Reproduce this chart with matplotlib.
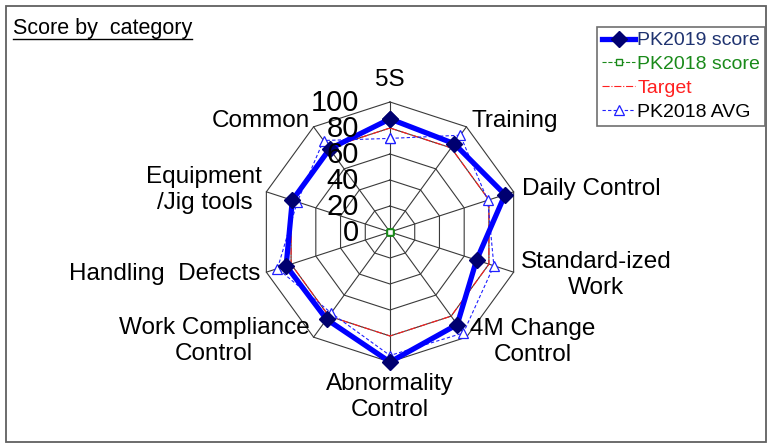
import numpy as np
import matplotlib
matplotlib.use("Agg")
import matplotlib.pyplot as plt
from matplotlib.lines import Line2D
from matplotlib.patches import Rectangle

plt.rcParams['font.family'] = ['Liberation Sans', 'DejaVu Sans']

categories = ["5S", "Training", "Daily Control", "Standard-ized\nWork",
              "4M Change\nControl", "Abnormality\nControl",
              "Work Compliance\nControl", "Handling  Defects",
              "Equipment\n/Jig tools", "Common"]
pk2019_score = [87, 84, 93, 70, 88, 100, 83, 84, 79, 79]
pk2018_score = [0, 0, 0, 0, 0, 0, 0, 0, 0, 0]
target = [80, 80, 80, 80, 80, 80, 80, 80, 80, 80]
pk2018_avg = [72, 92, 79, 84, 96, 95, 77, 91, 75, 87]
ticks = [0, 20, 40, 60, 80, 100]
series_names = ["PK2019 score", "PK2018 score", "Target", "PK2018 AVG"]

W, H = 773, 447
fig = plt.figure(figsize=(W / 100, H / 100), dpi=100)

cx, cy, R = 390, 232, 130
ax = fig.add_axes([(cx - R) / W, (H - cy - R) / H, 2 * R / W, 2 * R / H],
                  projection='polar')
ax.set_theta_zero_location('N')
ax.set_theta_direction(-1)
ax.set_ylim(0, 100)
ax.axis('off')

n = len(categories)
theta = np.linspace(0, 2 * np.pi, n, endpoint=False)
th_c = np.append(theta, theta[0])

def closed(v):
    return np.append(v, v[0])

# grid polygons and spokes
for t in ticks[1:]:
    ax.plot(th_c, [t] * (n + 1), color='#3a3a3a', lw=0.8, zorder=1, clip_on=False)
for th in theta:
    ax.plot([th, th], [0, 100], color='#3a3a3a', lw=0.8, zorder=1, clip_on=False)

ax.plot(th_c, closed(target), color='#ff2020', lw=0.8, ls='-.', zorder=2,
        clip_on=False, label=series_names[2])
ax.plot(th_c, closed(pk2018_score), color='#1a8a1a', lw=0.8, ls='--',
        marker='s', ms=4, mfc='white', mec='#1a8a1a', zorder=3,
        clip_on=False, label=series_names[1])
ax.plot(th_c, closed(pk2018_avg), color='#2020ff', lw=0.8, ls=(0, (3, 2)),
        marker='^', ms=6.5, mfc='white', mec='#2020ff', mew=0.9, zorder=4,
        clip_on=False, label=series_names[3])
ax.plot(th_c, closed(pk2019_score), color='#0000ff', lw=3.8,
        marker='D', ms=8, mfc='#000070', mec='#000070', zorder=5,
        clip_on=False, label=series_names[0])

# radial tick labels
for t in ticks:
    ax.annotate(str(t), xy=(0, t), xytext=(-31 * 0.72, -1), textcoords='offset points',
                ha='right', va='center', fontsize=21, color='black', zorder=6,
                annotation_clip=False)

# category labels
offs = [(0, 22, 'center'), (5, 6, 'left'), (8, 3, 'left'), (7, -3, 'left'),
        (4, -5, 'left'), (0, -35, 'center'), (-4, -4, 'right'),
        (-6, -2, 'right'), (-4, 2, 'right'), (-4, 6, 'right')]
for th, lab, (dx, dy, ha) in zip(theta, categories, offs):
    ax.annotate(lab, xy=(th, 100), xytext=(dx * 0.72, dy * 0.72),
                textcoords='offset points', ha=ha, va='center',
                multialignment='center', fontsize=17.5, linespacing=1.22,
                annotation_clip=False)

# legend
handles, labels = ax.get_legend_handles_labels()
order = [series_names.index(l) for l in labels]
pairs = sorted(zip(order, handles, labels))
h_sorted = [p[1] for p in pairs]
l_sorted = [p[2] for p in pairs]
leg = fig.legend(h_sorted, l_sorted, loc='upper right',
                 bbox_to_anchor=(765 / W, 1 - 27 / H), fontsize=14,
                 frameon=True, fancybox=False, edgecolor='#707070',
                 framealpha=1, borderpad=0.25, handlelength=1.7,
                 handletextpad=0.1, labelspacing=0.32, borderaxespad=0,
                 labelcolor=['#1f3370', '#1a8a1a', '#ff2020', 'black'])
leg.get_frame().set_linewidth(1.2)

# outer border
fig.patches.append(Rectangle((6 / W, 1 - 442 / H), 760 / W, 436 / H,
                             transform=fig.transFigure, fill=False,
                             edgecolor='#606060', lw=1.3))

# underlined title
title = fig.text(13 / W, 1 - 34 / H, "Score by  category", fontsize=15.5,
                 ha='left', va='baseline')
fig.canvas.draw()
bb = title.get_window_extent()
fig.lines.append(Line2D([bb.x0 / W, bb.x1 / W], [1 - 38.5 / H, 1 - 38.5 / H],
                        transform=fig.transFigure, color='black', lw=1.0))

fig.savefig("out.png", dpi=100)
